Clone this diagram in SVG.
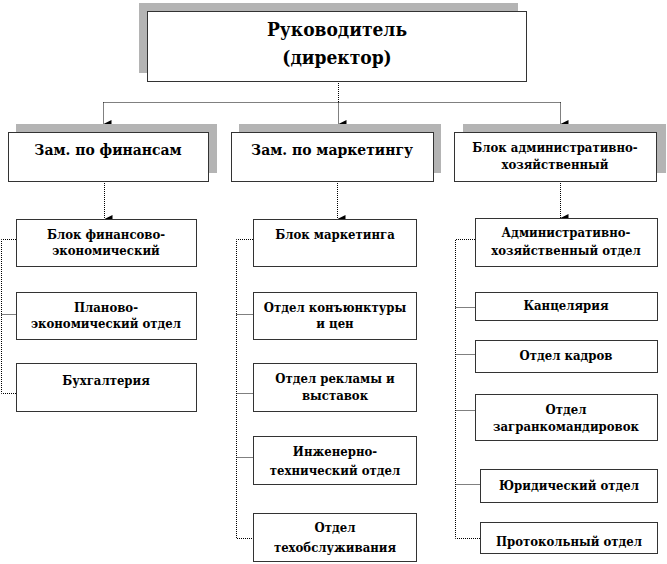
<svg xmlns="http://www.w3.org/2000/svg" width="667" height="564" viewBox="0 0 667 564">
<defs>
<style>
.box{fill:#fff;stroke:#333;stroke-width:1}
.sh{fill:#b4b4b4}
.con{fill:none;stroke:#000;stroke-width:1;stroke-dasharray:1 1}
text{font-family:'DejaVu Serif Condensed','DejaVu Serif',serif;font-stretch:condensed;font-weight:700;fill:#000;text-anchor:middle}
.t1{font-size:19px}
.t2{font-size:15.5px}
.t3{font-size:13px}
</style>
<marker id="arr" viewBox="0 0 8 8" refX="4" refY="8" markerWidth="8" markerHeight="8" markerUnits="userSpaceOnUse" orient="auto-start-reverse">
<path d="M0,0 L8,0 L4,8 Z" fill="#000"/>
</marker>
</defs>
<rect width="667" height="564" fill="#fff"/>

<g id="connectors">
<path class="con" d="M338.5,81 V102.5 M103.5,102.5 H560.5"/>
<path class="con" d="M103.5,102.5 V124" marker-end="url(#arr)"/>
<path class="con" d="M338.5,102.5 V124" marker-end="url(#arr)"/>
<path class="con" d="M560.5,102.5 V124" marker-end="url(#arr)"/>
<path class="con" d="M104.5,181 V219" marker-end="url(#arr)"/>
<path class="con" d="M337.5,181 V219" marker-end="url(#arr)"/>
<path class="con" d="M560.5,181 V218" marker-end="url(#arr)"/>
<path class="con" d="M16,239.5 H1.5 V393.5 H16 M1.5,314.5 H16"/>
<path class="con" d="M253,239.5 H236.5 V538.5 H253 M236.5,314.5 H253 M236.5,393.5 H253 M236.5,457.5 H253"/>
<path class="con" d="M475,239.5 H455.5 V538.5 H480 M455.5,307.5 H475 M455.5,354.5 H475 M455.5,410.5 H475 M455.5,484.5 H480"/>
</g>

<g id="director">
<rect class="sh" x="139" y="3" width="379" height="70"/>
<rect class="box" x="147.5" y="11.5" width="379" height="70"/>
<text class="t1" x="337" y="36">Руководитель</text>
<text class="t1" x="337" y="64">(директор)</text>
</g>

<g id="zam-fin">
<rect class="sh" x="16" y="124" width="201" height="49"/>
<rect class="box" x="8.5" y="132.5" width="200" height="49"/>
<text class="t2" x="108" y="155">Зам. по финансам</text>
</g>
<g id="zam-mark">
<rect class="sh" x="239" y="124" width="202" height="49"/>
<rect class="box" x="231.5" y="132.5" width="202" height="49"/>
<text class="t2" x="332" y="155">Зам. по маркетингу</text>
</g>
<g id="blok-adm">
<rect class="sh" x="463" y="124" width="203" height="49"/>
<rect class="box" x="454.5" y="132.5" width="202" height="49"/>
<text class="t3" x="555" y="152">Блок административно-</text>
<text class="t3" x="555" y="169">хозяйственный</text>
</g>

<g id="blok-fin">
<rect class="box" x="16.5" y="219.5" width="180" height="47"/>
<text class="t3" x="106" y="239">Блок финансово-</text>
<text class="t3" x="106" y="255">экономический</text>
</g>
<g id="plan">
<rect class="box" x="16.5" y="292.5" width="180" height="47"/>
<text class="t3" x="106" y="312">Планово-</text>
<text class="t3" x="106" y="328">экономический отдел</text>
</g>
<g id="buh">
<rect class="box" x="16.5" y="363.5" width="180" height="48"/>
<text class="t3" x="106" y="385">Бухгалтерия</text>
</g>

<g id="blok-mark">
<rect class="box" x="253.5" y="219.5" width="163" height="47"/>
<text class="t3" x="335" y="239">Блок маркетинга</text>
</g>
<g id="konj">
<rect class="box" x="253.5" y="292.5" width="163" height="47"/>
<text class="t3" x="335" y="312">Отдел конъюнктуры</text>
<text class="t3" x="335" y="328">и цен</text>
</g>
<g id="rekl">
<rect class="box" x="253.5" y="363.5" width="163" height="48"/>
<text class="t3" x="335" y="383">Отдел рекламы и</text>
<text class="t3" x="335" y="400">выставок</text>
</g>
<g id="ingen">
<rect class="box" x="253.5" y="436.5" width="163" height="48"/>
<text class="t3" x="335" y="456">Инженерно-</text>
<text class="t3" x="335" y="475">технический отдел</text>
</g>
<g id="tehobsl">
<rect class="box" x="253.5" y="513.5" width="163" height="48"/>
<text class="t3" x="335" y="532">Отдел</text>
<text class="t3" x="335" y="552">техобслуживания</text>
</g>

<g id="adm-otdel">
<rect class="box" x="475.5" y="218.5" width="182" height="48"/>
<text class="t3" x="566" y="237">Административно-</text>
<text class="t3" x="566" y="255">хозяйственный отдел</text>
</g>
<g id="kanc">
<rect class="box" x="475.5" y="292.5" width="182" height="28"/>
<text class="t3" x="566" y="310">Канцелярия</text>
</g>
<g id="kadry">
<rect class="box" x="475.5" y="340.5" width="182" height="32"/>
<text class="t3" x="566" y="360">Отдел кадров</text>
</g>
<g id="zagran">
<rect class="box" x="475.5" y="394.5" width="182" height="46"/>
<text class="t3" x="566" y="414">Отдел</text>
<text class="t3" x="566" y="431">загранкомандировок</text>
</g>
<g id="jur">
<rect class="box" x="480.5" y="469.5" width="177" height="33"/>
<text class="t3" x="569" y="490">Юридический отдел</text>
</g>
<g id="protokol">
<rect class="box" x="480.5" y="522.5" width="177" height="31"/>
<text class="t3" x="569" y="546">Протокольный отдел</text>
</g>
</svg>
